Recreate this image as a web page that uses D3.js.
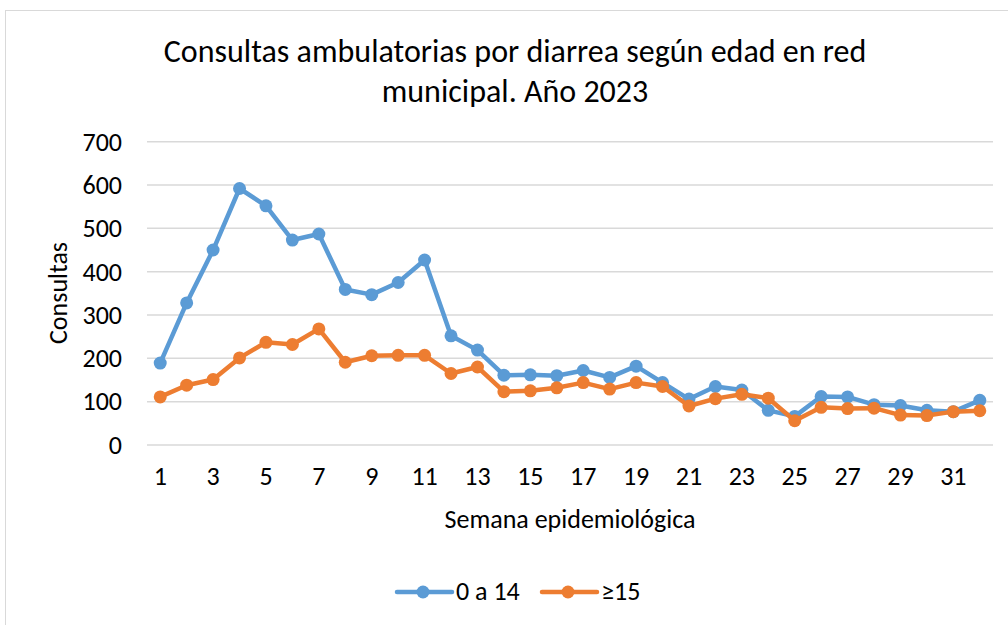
<!DOCTYPE html>
<html>
<head>
<meta charset="UTF-8">
<title>Consultas ambulatorias por diarrea</title>
<script src="https://d3js.org/d3.v7.min.js"></script>
<style>
  body { margin: 0; background: #fff; }
  text { font-family: Carlito, Calibri, Lato, sans-serif; fill: #000; }
</style>
</head>
<body>
<svg id="chart" width="1008" height="625"></svg>
<script>
// Data
var weeks = d3.range(1, 33)
var serie0a14 = [189, 328, 450, 592, 552, 473, 487, 359, 347, 375, 427, 252,
                 219, 161, 162, 160, 172, 156, 182, 144, 106, 135, 127, 80,
                 66, 112, 111, 93, 91, 80, 77, 103]
var serie15 = [111, 138, 151, 201, 237, 232, 268, 191, 206, 207, 207, 165,
               180, 123, 125, 132, 144, 129, 144, 135, 90, 107, 117, 108,
               56, 87, 84, 85, 69, 68, 77, 79]
var yTicks = [0, 100, 200, 300, 400, 500, 600, 700]
var seriesNames = ['0 a 14', '\u226515']
var colors = ['#5B9BD5', '#ED7D31']

var titleLines = ['Consultas ambulatorias por diarrea según edad en red', 'municipal. Año 2023']

var FONT = 'Carlito, Calibri, Lato, sans-serif'
var svg = d3.select('#chart')

// outer chart border (Excel chart area)
svg.append('rect')
  .attr('x', 5.5).attr('y', 10.5)
  .attr('width', 1010).attr('height', 630)
  .attr('fill', 'none').attr('stroke', '#d9d9d9').attr('stroke-width', 1)

var plot = { left: 147, right: 993, top: 141.7, bottom: 445 }

var x = d3.scaleBand().domain(weeks).range([plot.left, plot.right])
var y = d3.scaleLinear().domain([0, 700]).range([plot.bottom, plot.top])

// gridlines
svg.append('g').selectAll('line').data(yTicks).enter().append('line')
  .attr('x1', plot.left).attr('x2', plot.right)
  .attr('y1', function(d) { return y(d) }).attr('y2', function(d) { return y(d) })
  .attr('stroke', '#d9d9d9').attr('stroke-width', 1.5)

// y axis labels
var yAxis = d3.axisLeft(y).tickValues(yTicks).tickSize(0).tickPadding(0)
var gy = svg.append('g').attr('transform', 'translate(122,0)').call(yAxis)
gy.select('.domain').remove()
gy.selectAll('text').attr('font-size', 26).attr('dy', '0.32em')
  .style('font-family', FONT).attr('fill', '#000')

// x axis labels (odd weeks)
var xAxis = d3.axisBottom(x).tickValues(weeks.filter(function(d) { return d % 2 == 1 }))
  .tickSize(0).tickPadding(0)
var gx = svg.append('g').attr('transform', 'translate(0,485)').call(xAxis)
gx.select('.domain').remove()
gx.selectAll('text').attr('font-size', 26).attr('dy', 0)
  .style('font-family', FONT).attr('fill', '#000')

// series
var line = d3.line()
  .x(function(d, i) { return x(weeks[i]) + x.bandwidth() / 2 })
  .y(function(d) { return y(d) })

;[serie0a14, serie15].forEach(function(s, k) {
  var g = svg.append('g')
  g.append('path').datum(s)
    .attr('d', line)
    .attr('fill', 'none')
    .attr('stroke', colors[k])
    .attr('stroke-width', 4.5)
    .attr('stroke-linejoin', 'round')
  g.selectAll('circle').data(s).enter().append('circle')
    .attr('cx', function(d, i) { return x(weeks[i]) + x.bandwidth() / 2 })
    .attr('cy', function(d) { return y(d) })
    .attr('r', 6.5)
    .attr('fill', colors[k])
})

// title
svg.append('text')
  .attr('text-anchor', 'middle')
  .attr('font-size', 32)
  .selectAll('tspan').data(titleLines).enter().append('tspan')
  .attr('x', 515)
  .attr('y', function(d, i) { return 62 + i * 40 })
  .text(function(d) { return d })

// axis titles
svg.append('text')
  .attr('transform', 'translate(67,293) rotate(-90)')
  .attr('text-anchor', 'middle')
  .attr('font-size', 26)
  .text('Consultas')

svg.append('text')
  .attr('x', 570).attr('y', 528)
  .attr('text-anchor', 'middle')
  .attr('font-size', 26)
  .text('Semana epidemiológica')

// legend
var legend = svg.append('g')
var legendX = [397, 542]
seriesNames.forEach(function(name, k) {
  var lx = legendX[k]
  legend.append('line')
    .attr('x1', lx).attr('x2', lx + 55)
    .attr('y1', 592).attr('y2', 592)
    .attr('stroke', colors[k]).attr('stroke-width', 4.5)
    .attr('stroke-linecap', 'round')
  legend.append('circle')
    .attr('cx', lx + 26).attr('cy', 592).attr('r', 6.5)
    .attr('fill', colors[k])
  legend.append('text')
    .attr('x', lx + 59).attr('y', 600)
    .attr('font-size', 26)
    .text(name)
})
</script>
</body>
</html>
